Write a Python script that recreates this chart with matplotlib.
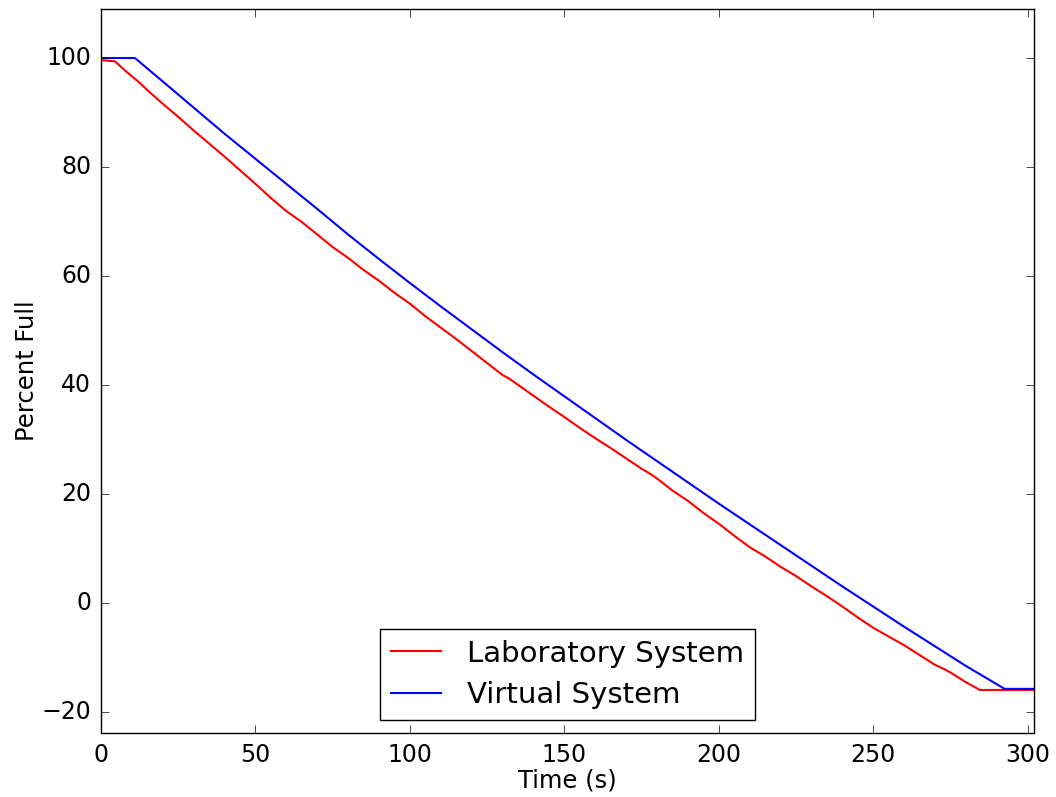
import matplotlib
matplotlib.use("Agg")
import matplotlib.pyplot as plt

# Laboratory tank level (percent full) over time
lab_time = [0, 4.5, 8, 12, 16, 20, 25, 30, 35, 40, 45, 50, 55, 60, 62, 65, 70,
            75, 77, 80, 85, 90, 95, 100, 105, 110, 115, 120, 125, 130, 132,
            135, 140, 145, 150, 155, 160, 165, 170, 175, 178, 180, 185, 190,
            195, 200, 205, 210, 215, 220, 225, 230, 235, 240, 245, 250, 255,
            260, 265, 270, 273, 275, 280, 284.5, 302]
lab_level = [99.6, 99.4, 97.6, 95.7, 93.6, 91.6, 89.2, 86.7, 84.3, 81.9, 79.4,
             76.9, 74.3, 71.9, 71.1, 69.9, 67.6, 65.3, 64.5, 63.3, 61.1, 59.1,
             56.9, 54.9, 52.6, 50.5, 48.4, 46.2, 44.0, 41.8, 41.2, 40.0, 38.0,
             36.0, 34.1, 32.1, 30.2, 28.4, 26.5, 24.6, 23.6, 22.8, 20.6, 18.7,
             16.5, 14.5, 12.3, 10.2, 8.5, 6.6, 4.9, 3.0, 1.2, -0.7, -2.7,
             -4.6, -6.2, -7.8, -9.6, -11.4, -12.2, -12.8, -14.6, -16.0, -16.0]

# Simulated (virtual) tank level over time
virt_time = [0, 11, 20, 30, 40, 50, 60, 70, 80, 90, 100, 110, 120, 130, 140,
             150, 160, 170, 180, 190, 200, 210, 220, 230, 240, 250, 260, 270,
             280, 292.5, 302]
virt_level = [100.0, 100.0, 95.7, 90.9, 86.1, 81.5, 76.9, 72.3, 67.6, 63.1,
              58.7, 54.4, 50.2, 46.0, 41.9, 37.9, 33.9, 29.9, 26.0, 22.1, 18.2,
              14.4, 10.6, 6.8, 3.0, -0.7, -4.4, -8.0, -11.6, -15.8, -15.8]

series_labels = ["Laboratory System", "Virtual System"]
x_ticks = [0, 50, 100, 150, 200, 250, 300]
y_ticks = [-20, 0, 20, 40, 60, 80, 100]

plt.style.use("classic")
fig = plt.figure(figsize=(10.56, 7.97), dpi=100, facecolor="white")
ax = fig.add_axes([0.0956, 0.0803, 0.8835, 0.9084])
ax.set_facecolor("white")

ax.plot(lab_time, lab_level, color=(1, 0, 0), lw=1.5, label=series_labels[0])
ax.plot(virt_time, virt_level, color=(0, 0, 1), lw=1.5, label=series_labels[1])

ax.set_xlim(0, 302)
ax.set_ylim(-23.9, 109)
ax.set_xticks(x_ticks)
ax.set_yticks(y_ticks)
ax.tick_params(axis="both", which="major", direction="in", length=6,
               labelsize=17, pad=7, top=True, right=True)
ax.set_xlabel("Time (s)", fontsize=17.5, labelpad=1)
ax.set_ylabel("Percent Full", fontsize=17.5, labelpad=2)

leg = ax.legend(loc="lower center", fontsize=21, numpoints=1,
                handlelength=1.7, handletextpad=0.9, borderpad=0.38,
                labelspacing=0.45, borderaxespad=0.45,
                bbox_to_anchor=(0.5, 0.0))
leg.get_frame().set_linewidth(1.0)

fig.savefig("out.png", dpi=100, facecolor="white")
